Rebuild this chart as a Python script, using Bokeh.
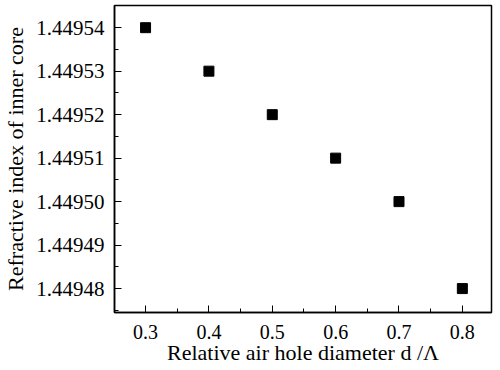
from bokeh.plotting import figure
from bokeh.models import FixedTicker, PrintfTickFormatter, Range1d
from bokeh.embed import file_html
from bokeh.resources import INLINE

# data
diameter = [0.3, 0.4, 0.5, 0.6, 0.7, 0.8]
index = [1.44954, 1.44953, 1.44952, 1.44951, 1.44950, 1.44948]
x_ticks = [0.3, 0.4, 0.5, 0.6, 0.7, 0.8]
y_ticks = [1.44948, 1.44949, 1.44950, 1.44951, 1.44952, 1.44953, 1.44954]

FONT = "Liberation Serif"

p = figure(width=500, height=370, output_backend="svg", toolbar_location=None,
           x_range=Range1d(0.251, 0.846), y_range=Range1d(1.4494745, 1.4495451),
           min_border_left=114, min_border_right=9, min_border_top=5, min_border_bottom=58)

p.scatter(diameter, index, marker="square", size=10, fill_color="black", line_color="black")

x_minor = [t + 0.05 for t in [0.2] + x_ticks]
y_minor = [t + 0.000005 for t in [1.44947] + y_ticks]
p.xaxis.ticker = FixedTicker(ticks=x_ticks, minor_ticks=x_minor)
p.yaxis.ticker = FixedTicker(ticks=y_ticks, minor_ticks=y_minor)
p.yaxis.formatter = PrintfTickFormatter(format="%.5f")
p.xaxis.formatter = PrintfTickFormatter(format="%.1f")

for ax in (p.xaxis[0], p.yaxis[0]):
    ax.major_tick_in = 7
    ax.major_tick_out = 0
    ax.minor_tick_in = 4
    ax.minor_tick_out = 0
    ax.major_tick_line_color = "black"
    ax.minor_tick_line_color = "black"
    ax.axis_line_color = "black"
    ax.axis_line_width = 1.5
    ax.major_label_text_font = FONT
    ax.major_label_text_color = "black"
    ax.axis_label_text_font = FONT
    ax.axis_label_text_font_size = "22px"
    ax.axis_label_text_font_style = "normal"
    ax.axis_label_text_color = "black"

p.xaxis.major_label_text_font_size = "20px"
p.yaxis.major_label_text_font_size = "21px"
p.xaxis.major_label_standoff = 12
p.yaxis.major_label_standoff = 10

p.xaxis.axis_label = "Relative air hole diameter d /Λ"
p.yaxis.axis_label = "Refractive index of inner core"
p.xaxis.axis_label_standoff = -2
p.yaxis.axis_label_standoff = 5

p.xgrid.grid_line_color = None
p.ygrid.grid_line_color = None
p.outline_line_color = "black"
p.outline_line_width = 1.5
p.outline_line_alpha = 1.0

open("out.html", "w").write(file_html(p, INLINE))
